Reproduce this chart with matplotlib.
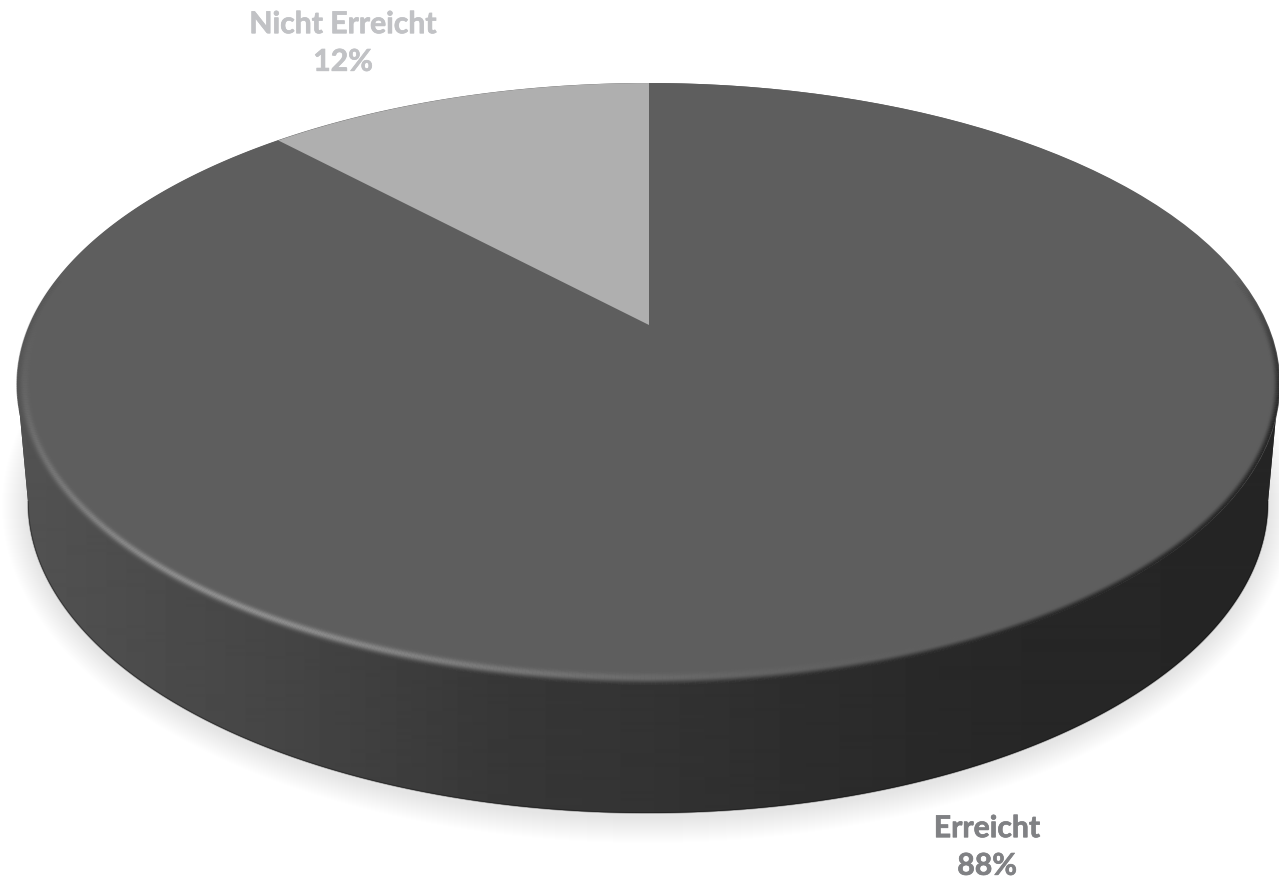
import numpy as np
import matplotlib
matplotlib.use("Agg")
import matplotlib.pyplot as plt
import matplotlib.patheffects as pe
from matplotlib.collections import LineCollection
from matplotlib.transforms import Transform

categories = ["Erreicht", "Nicht Erreicht"]
values = [88, 12]
slice_colors = ["#5e5e5e", "#afafaf"]
label_colors = ["#808184", "#c1c2c5"]
label_pos = [(987, 847), (343, 43)]

W = 1279;  H = 886

# top face, pixels
apex_x = 649;  apex_y = 325
top_cx = 648;  top_cy = 384;  top_a = 631;  top_b = 301
# bottom edge of the wall
bot_cx = 648;  bot_cy = 502;  bot_a = 620;  bot_b = 311
# wall shading along x
wall_x = [20, 300, 500, 650, 800, 1000, 1279]
wall_g = [0x52, 0x44, 0x37, 0x33, 0x2d, 0x27, 0x25]
top_g = 0x5e


class Tilt(Transform):
    # unit circle -> tilted disc in pixels (far side shrunk)
    input_dims = 2
    output_dims = 2
    is_separable = False
    has_inverse = False

    def transform_non_affine(self, xy):
        xy = np.asarray(xy, dtype=float)
        d = 1.0 + 0.196*xy[:, 1]
        return np.column_stack([apex_x + 619.0*xy[:, 0]/d, apex_y - 289.4*xy[:, 1]/d])


fig = plt.figure(figsize=(W/100, H/100), dpi=100)
ax = fig.add_axes([0, 0, 1, 1])

t = np.linspace(0, 2*np.pi, 721)

# soft shadow under the disc
for i in range(1, 27):
    ax.fill(bot_cx + (bot_a + i)*np.cos(t), bot_cy + 4 + (bot_b + i)*np.sin(t),
            color="k", alpha=0.0055, lw=0, zorder=1)

# wall
tw = np.linspace(np.pi, 0, 361)
wx = np.r_[top_cx - top_a, bot_cx + bot_a*np.cos(tw), top_cx + top_a]
wy = np.r_[top_cy, bot_cy + bot_b*np.sin(tw), top_cy]
wall_poly = ax.fill(wx, wy, color="#333333", lw=0, zorder=2)[0]
grad = np.interp(np.arange(W), wall_x, wall_g)[None, :]
im = ax.imshow(grad, cmap="gray", vmin=0, vmax=255, extent=(0, W, H, 0),
               aspect="auto", interpolation="bilinear", zorder=3)
im.set_clip_path(wall_poly)
ax.plot(bot_cx + bot_a*np.cos(tw), bot_cy + bot_b*np.sin(tw), color="k", lw=1.2, alpha=0.3, zorder=4)

# top face
tilt = Tilt() + ax.transData
wedges, _ = ax.pie(values, colors=slice_colors, startangle=90, counterclock=False,
                   wedgeprops={"transform": tilt, "linewidth": 0, "zorder": 5})
ax.fill(top_cx + top_a*np.cos(t), top_cy + top_b*np.sin(t), color=slice_colors[0], lw=0, zorder=4.5)

# bevel round the front of the top face
tr = np.linspace(0, 2*np.pi, 1081)
tm = 0.5*(tr[:-1] + tr[1:])
segs = [];  cols = []
for d in np.arange(0, 18, 0.8):
    rx = top_cx + (top_a - d)*np.cos(tr)
    ry = top_cy + (top_b - d)*np.sin(tr)
    pts = np.column_stack([rx, ry])
    segs.append(np.stack([pts[:-1], pts[1:]], axis=1))
    mx = top_cx + (top_a - d)*np.cos(tm)
    s = np.clip(d/7.0, 0, 1);  s = s*s*(3 - 2*s)
    g = top_g + (np.interp(mx, wall_x, wall_g) - top_g)*(1 - s)
    deg = np.degrees(tm)
    g = g + 50*np.exp(-((deg - 132)/36.0)**2)*np.exp(-((d - 8)/3.6)**2)
    a = np.clip((np.sin(tm) + 0.35)/0.5, 0, 1)
    g = np.clip(g, 0, 255)/255.0
    cols.append(np.column_stack([g, g, g, a]))
ax.add_collection(LineCollection(np.concatenate(segs), colors=np.concatenate(cols),
                                 linewidths=0.9, capstyle="butt", zorder=6))

# labels
for name, v, c, p in zip(categories, values, label_colors, label_pos):
    ax.text(p[0], p[1], f"{name}\n{v}%", color=c, ha="center", va="center",
            family="Lato", weight="bold", fontsize=21.7, linespacing=1.42, zorder=8,
            path_effects=[pe.withStroke(linewidth=0.5, foreground=c)])

ax.set_aspect("auto")
ax.set_xlim(0, W)
ax.set_ylim(H, 0)
ax.axis("off")

fig.savefig("out.png", dpi=100, facecolor="white")
